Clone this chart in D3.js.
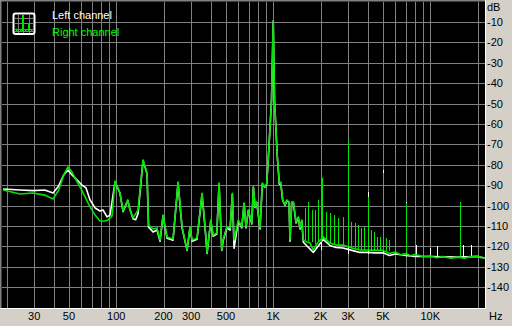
<!DOCTYPE html>
<html>
<head>
<meta charset="utf-8">
<script src="https://cdn.jsdelivr.net/npm/d3@7"></script>
<style>
  body { margin: 0; background: #d4d0c8; }
  svg { display: block; font-family: "Liberation Sans", Arial, sans-serif; font-size: 11px; }
</style>
</head>
<body>
<div id="chart"></div>
<script>
const width = 512;
const height = 326;

// grid lines and labels
const freqGrid = [20, 30, 40, 50, 60, 70, 80, 90, 100, 200, 300, 400, 500, 600, 700, 800, 900,
    1000, 2000, 3000, 4000, 5000, 6000, 7000, 8000, 9000, 10000, 20000];
const freqTicks = [30, 50, 100, 200, 300, 500, 1000, 2000, 3000, 5000, 10000];
const freqTickLabels = ["30", "50", "100", "200", "300", "500", "1K", "2K", "3K", "5K", "10K"];
const dbTicks = [-10, -20, -30, -40, -50, -60, -70, -80, -90, -100, -110, -120, -130, -140];

const seriesNames = ["Left channel", "Right channel"];

// right channel spectrum [Hz, dB]
const rightCurve = [
    [19, -92.4], [24.4, -94.4], [29.5, -93.9], [35, -94.9], [39.6, -96.8], [43, -92.4], [46.3, -85],
    [49.3, -81.1], [52.3, -83.6], [55.5, -87.5], [58.8, -90.9], [63.3, -95.8], [68.1, -100.7],
    [73.3, -104.7], [78.8, -107.6], [84.9, -107.6], [88.7, -107.1], [94, -105.1], [98.2, -88],
    [105.7, -93.9], [110.5, -102.7], [118.4, -97.3], [122.4, -102.2], [127.9, -106.1], [137.7, -102.2],
    [148.1, -77.7], [157.1, -84.1], [160.6, -109.6], [171.5, -111.5], [181.9, -111], [190.1, -116.9],
    [198.7, -104.7], [210.6, -115.4], [230, -116.4], [247.6, -88.5], [262.5, -110.5], [282.5, -121.8],
    [295, -110.5], [304, -116.9], [327, -116], [352, -94], [368, -110.5], [379, -123.3], [400, -107.1],
    [414, -114.5], [437, -113.5], [452, -89], [470, -121.8], [479, -116.9], [506, -110.5], [531, -111],
    [549, -94], [563, -116.9], [599, -107.1], [630, -110.5], [652, -98.8], [671, -110.5], [694, -102.2],
    [730, -108.6], [747, -90.9], [766, -100.7], [785, -98.3], [824, -111], [852, -89], [887, -90.9],
    [909, -89], [931, -76.2], [975, -48.3], [1000, -9.6], [1019, -48.3], [1062, -76.2], [1094, -89],
    [1116, -88.5], [1149, -97.3], [1189, -99.8], [1219, -97.3], [1261, -98.3], [1279, -116.9],
    [1311, -98.3], [1343, -98.3], [1397, -108.1], [1445, -105.6], [1481, -111], [1519, -107.1],
    [1555, -116.9], [1634, -117.9], [1715, -118.4], [1800, -121.8], [1874, -119.4], [1938, -117.9],
    [2083, -115.4], [2298, -118.4], [2510, -119.4], [2782, -119.4], [3176, -120.8], [3572, -121.8],
    [4000, -121.8], [4452, -122], [5000, -122], [5500, -123.5], [6000, -122.8], [6500, -124.2],
    [7000, -123.5], [7500, -124.6], [8000, -124], [9000, -125], [10000, -124.8], [11000, -125.6],
    [12000, -125], [13500, -125.8], [15000, -125.3], [16500, -125.9], [17900, -125], [20000, -124.8],
    [21000, -125.6], [22300, -125.7]
];

// left channel spectrum [Hz, dB]
const leftCurve = [
    [19, -91.9], [24.4, -92.4], [29.5, -92.7], [35, -92.4], [39.6, -93.9], [43, -90.4], [46.3, -85],
    [49.3, -82.6], [52.3, -85], [56.3, -87.5], [60.6, -90], [64.2, -91.4], [68.1, -97.3], [73.3, -101.2],
    [78.8, -102.7], [82.4, -102.2], [87.4, -105.6], [91.3, -104.7], [98.2, -88.5], [105.7, -94],
    [110.5, -103], [118.4, -97.5], [122.4, -102], [127.9, -106.5], [133, -107], [137.7, -104],
    [148.1, -78], [157.1, -84.5], [160.6, -110.5], [171.5, -113], [181.9, -112], [190.1, -117.5],
    [198.7, -105], [210.6, -116], [230, -117], [247.6, -89], [262.5, -111], [282.5, -122],
    [295, -111], [304, -117.5], [327, -116.5], [352, -94.5], [368, -111], [379, -123.5], [400, -107.5],
    [414, -115], [437, -114], [452, -89.5], [470, -122], [479, -117.5], [506, -111], [531, -112],
    [549, -94.5], [563, -121], [599, -107.5], [630, -111], [652, -99], [671, -111], [694, -102.5],
    [730, -109], [747, -91], [766, -101], [785, -98.5], [824, -111.5], [852, -89.5], [887, -91],
    [909, -89.5], [931, -76.5], [975, -48.5], [1000, -9.6], [1019, -48.5], [1062, -76.5], [1094, -89.5],
    [1116, -89], [1149, -97.5], [1189, -100], [1219, -97.5], [1261, -98.5], [1279, -117.5],
    [1311, -98.5], [1343, -98.5], [1397, -108.5], [1445, -106], [1481, -111.5], [1519, -107.5],
    [1555, -118], [1800, -123], [2083, -116.6], [2298, -119.6], [2510, -120.6], [2782, -120.8],
    [3176, -122], [3572, -123], [4000, -123], [4452, -123.2], [5000, -123.2], [5500, -124.5],
    [6000, -123.8], [7000, -124.5], [8000, -125], [10000, -125], [15000, -125.3], [20000, -125],
    [22300, -125.7]
];

// harmonic / spur lines [Hz, top dB, base dB]
const rightSpikes = [
    [1594, -101.2, -117], [1673, -98.3, -117.5], [1759, -102.2, -118], [1846, -102.2, -119],
    [1938, -97.3, -118], [2000, -45.8, -118], [2045, -86.5, -116], [2168, -103.2, -117],
    [2298, -103.7, -118.4], [2449, -104.7, -119], [2604, -106.1, -119.4], [2782, -105.6, -119.4],
    [3000, -68, -120], [3151, -108.1, -120.8], [3318, -108.6, -121], [3467, -109.6, -121.5],
    [3625, -111, -121.8], [3788, -110.5, -121.8], [4000, -95.8, -121.8], [4166, -112, -122],
    [4356, -113, -122], [4553, -115.4, -122], [4794, -115.4, -122], [5000, -84.1, -122],
    [5224, -115.9, -122.3], [5460, -116.9, -122.5], [6000, -110.5, -122.8], [7000, -98.8, -123.5],
    [9000, -110.5, -124.5], [15500, -98.3, -125.3]
];

const leftSpikes = [
    [2000, -45.8, -122], [3000, -68, -124], [4000, -93.4, -124], [5000, -82.6, -124],
    [7000, -98.3, -124.5], [8080, -119.4, -125], [10000, -120.8, -125], [11050, -119.8, -125.3],
    [16180, -119.4, -125.3], [18110, -119.4, -125.3], [22340, -119.4, -125.5]
];

const plot = { left: 2, top: 2, right: 485, bottom: 308 };

const svg = d3.select("#chart").append("svg")
    .attr("width", width)
    .attr("height", height);

// Scales
const xScale = d3.scaleLog().domain([20, 20000]).range([6.5, 477.5]);
const yScale = d3.scaleLinear().domain([0, -150]).range([1.5, 307.5]);

const px = v => Math.round(v) + 0.5;

// plot frame (sunken look)
svg.append("rect")
    .attr("x", plot.left).attr("y", plot.top)
    .attr("width", plot.right - plot.left).attr("height", plot.bottom - plot.top)
    .attr("fill", "#000");
svg.append("path")
    .attr("d", `M0.5,${plot.bottom}V0.5H${plot.right}`)
    .attr("stroke", "#808080").attr("fill", "none");
svg.append("path")
    .attr("d", `M1.5,${plot.bottom}V1.5H${plot.right}`)
    .attr("stroke", "#404040").attr("fill", "none");
svg.append("path")
    .attr("d", `M0,${plot.bottom + 0.5}H${plot.right + 0.5}V0`)
    .attr("stroke", "#fff").attr("fill", "none");

// grid
const grid = svg.append("g").attr("stroke", "#808080").attr("shape-rendering", "crispEdges");
grid.selectAll("line.v")
    .data(freqGrid)
    .enter().append("line")
    .attr("class", "v")
    .attr("x1", d => px(xScale(d))).attr("x2", d => px(xScale(d)))
    .attr("y1", plot.top).attr("y2", plot.bottom);
grid.selectAll("line.h")
    .data(dbTicks)
    .enter().append("line")
    .attr("class", "h")
    .attr("y1", d => px(yScale(d))).attr("y2", d => px(yScale(d)))
    .attr("x1", plot.left).attr("x2", plot.right);

// clip
svg.append("clipPath").attr("id", "clip")
    .append("rect")
    .attr("x", plot.left).attr("y", plot.top)
    .attr("width", plot.right - plot.left).attr("height", plot.bottom - plot.top);

const line = d3.line()
    .x(d => xScale(d[0]))
    .y(d => yScale(d[1]));

const curves = svg.append("g").attr("clip-path", "url(#clip)");

function drawChannel(curve, spikes, color) {
    curves.append("g")
        .selectAll("line")
        .data(spikes)
        .enter().append("line")
        .attr("x1", d => px(xScale(d[0]))).attr("x2", d => px(xScale(d[0])))
        .attr("y1", d => yScale(d[1])).attr("y2", d => yScale(d[2]))
        .attr("stroke", color)
        .attr("stroke-width", 1)
        .attr("shape-rendering", "crispEdges");
    curves.append("path")
        .datum(curve)
        .attr("d", line)
        .attr("fill", "none")
        .attr("stroke", color)
        .attr("stroke-width", 1.6)
        .attr("stroke-linejoin", "round");
}

drawChannel(leftCurve, leftSpikes, "#ffffff");
drawChannel(rightCurve, rightSpikes, "#00e600");

// dB labels
svg.selectAll("text.db")
    .data(dbTicks)
    .enter().append("text")
    .attr("class", "db")
    .attr("x", 487)
    .attr("y", d => yScale(d) + 4)
    .attr("fill", "#000")
    .text(d => d);
svg.append("text").attr("x", 487).attr("y", 11).text("dB");

// frequency labels
svg.selectAll("text.hz")
    .data(freqTicks)
    .enter().append("text")
    .attr("class", "hz")
    .attr("x", d => xScale(d))
    .attr("y", 320)
    .attr("text-anchor", "middle")
    .text((d, i) => freqTickLabels[i]);
svg.append("text").attr("x", 489).attr("y", 320).text("Hz");

// legend
const legend = svg.append("g");
legend.append("rect")
    .attr("x", 13.5).attr("y", 13.5).attr("width", 21).attr("height", 20.5)
    .attr("rx", 2).attr("fill", "#000").attr("stroke", "#fff").attr("stroke-width", 2);
[18.5, 23.5, 29.5].forEach(v => {
    legend.append("line").attr("x1", v).attr("x2", v).attr("y1", 15).attr("y2", 33)
        .attr("stroke", "#808080");
    legend.append("line").attr("y1", v).attr("y2", v).attr("x1", 15).attr("x2", 33)
        .attr("stroke", "#808080");
});
legend.append("path")
    .attr("d", "M15,31.5H16.5V29H17V31.5H20.5V30H21V31.5H22.5V15H23V31.5H25.5V30H26V31.5H28.5V24H29V31.5H31.5V30.5H32V31.5H33")
    .attr("fill", "none").attr("stroke", "#00e600");
legend.selectAll("text")
    .data(seriesNames)
    .enter().append("text")
    .attr("x", 52)
    .attr("y", (d, i) => 19 + i * 17)
    .attr("fill", (d, i) => i === 0 ? "#fff" : "#00ff00")
    .text(d => d);
</script>
</body>
</html>
